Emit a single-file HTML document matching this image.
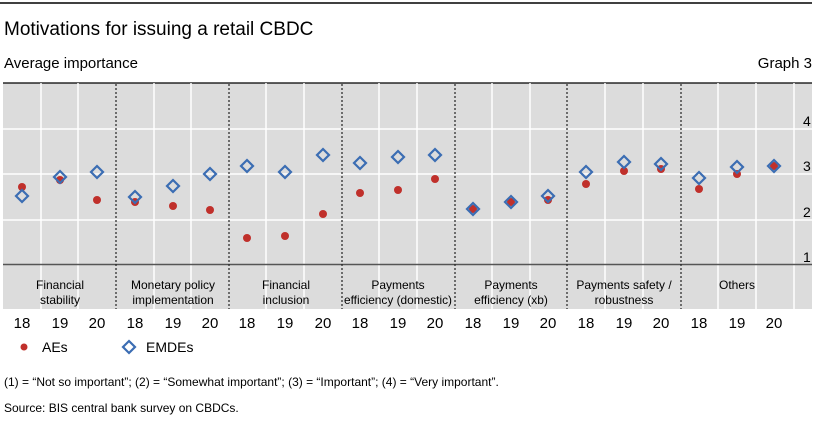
<!DOCTYPE html>
<html><head><meta charset="utf-8"><style>
body{margin:0;background:#fff;}
svg{display:block;font-family:"Liberation Sans",sans-serif;}
</style></head><body>
<svg width="827" height="427" xmlns="http://www.w3.org/2000/svg">
<line x1="0" y1="3" x2="812" y2="3" stroke="#000" stroke-width="1.5"/>
<text x="4" y="35" font-size="19" fill="#000">Motivations for issuing a retail CBDC</text>
<text x="4" y="68" font-size="15" fill="#000">Average importance</text>
<text x="812" y="68" font-size="15" fill="#000" text-anchor="end">Graph 3</text>
<rect x="3" y="83" width="809" height="226" fill="#dcdcdc"/>
<line x1="3" y1="83" x2="812" y2="83" stroke="#000" stroke-width="1.2"/>
<g stroke="#fff" stroke-width="1.5">
<line x1="3" y1="129" x2="812" y2="129"/><line x1="3" y1="174" x2="812" y2="174"/><line x1="3" y1="220" x2="812" y2="220"/>
<line x1="41" y1="83" x2="41" y2="309"/><line x1="78" y1="83" x2="78" y2="309"/>
<line x1="154" y1="83" x2="154" y2="309"/><line x1="191" y1="83" x2="191" y2="309"/>
<line x1="266" y1="83" x2="266" y2="309"/><line x1="304" y1="83" x2="304" y2="309"/>
<line x1="379" y1="83" x2="379" y2="309"/><line x1="417" y1="83" x2="417" y2="309"/>
<line x1="492" y1="83" x2="492" y2="309"/><line x1="530" y1="83" x2="530" y2="309"/>
<line x1="605" y1="83" x2="605" y2="309"/><line x1="643" y1="83" x2="643" y2="309"/>
<line x1="718" y1="83" x2="718" y2="309"/><line x1="756" y1="83" x2="756" y2="309"/>
<line x1="794" y1="83" x2="794" y2="309"/>
</g>
<line x1="3" y1="264.5" x2="812" y2="264.5" stroke="#555" stroke-width="1.5"/>
<g stroke="#222" stroke-width="1.2" stroke-dasharray="2,2">
<line x1="116" y1="84" x2="116" y2="309"/><line x1="229" y1="84" x2="229" y2="309"/>
<line x1="342" y1="84" x2="342" y2="309"/><line x1="455" y1="84" x2="455" y2="309"/>
<line x1="567" y1="84" x2="567" y2="309"/><line x1="681" y1="84" x2="681" y2="309"/>
</g>
<g font-size="14" fill="#000">
<text x="803" y="126">4</text><text x="803" y="171">3</text><text x="803" y="217">2</text><text x="803" y="262">1</text>
</g>
<g font-size="12" fill="#000" text-anchor="middle">
<text x="60" y="289">Financial</text><text x="60" y="304">stability</text>
<text x="173" y="289">Monetary policy</text><text x="173" y="304">implementation</text>
<text x="286" y="289">Financial</text><text x="286" y="304">inclusion</text>
<text x="398" y="289">Payments</text><text x="398" y="304" textLength="108" lengthAdjust="spacingAndGlyphs">efficiency (domestic)</text>
<text x="511" y="289">Payments</text><text x="511" y="304">efficiency (xb)</text>
<text x="624" y="289">Payments safety /</text><text x="624" y="304">robustness</text>
<text x="737" y="289">Others</text>
</g>
<g font-size="15" fill="#000" text-anchor="middle">
<text x="22" y="328">18</text><text x="60" y="328">19</text><text x="97" y="328">20</text>
<text x="135" y="328">18</text><text x="173" y="328">19</text><text x="210" y="328">20</text>
<text x="247" y="328">18</text><text x="285" y="328">19</text><text x="323" y="328">20</text>
<text x="360" y="328">18</text><text x="398" y="328">19</text><text x="435" y="328">20</text>
<text x="473" y="328">18</text><text x="511" y="328">19</text><text x="548" y="328">20</text>
<text x="586" y="328">18</text><text x="624" y="328">19</text><text x="661" y="328">20</text>
<text x="699" y="328">18</text><text x="737" y="328">19</text><text x="774" y="328">20</text>
</g>
<g fill="#c0302b">
<circle cx="22" cy="187" r="4"/><circle cx="60" cy="180" r="4"/><circle cx="97" cy="200" r="4"/>
<circle cx="135" cy="202" r="4"/><circle cx="173" cy="206" r="4"/><circle cx="210" cy="210" r="4"/>
<circle cx="247" cy="238" r="4"/><circle cx="285" cy="236" r="4"/><circle cx="323" cy="214" r="4"/>
<circle cx="360" cy="193" r="4"/><circle cx="398" cy="190" r="4"/><circle cx="435" cy="179" r="4"/>
<circle cx="473" cy="209" r="4"/><circle cx="511" cy="202" r="4"/><circle cx="548" cy="200" r="4"/>
<circle cx="586" cy="184" r="4"/><circle cx="624" cy="171" r="4"/><circle cx="661" cy="169" r="4"/>
<circle cx="699" cy="189" r="4"/><circle cx="737" cy="174" r="4"/><circle cx="774" cy="166" r="4"/>
</g>
<g fill="none" stroke="#3b6db3" stroke-width="2.2">
<path d="M22 190l6 6-6 6-6-6z"/><path d="M60 171l6 6-6 6-6-6z"/><path d="M97 166l6 6-6 6-6-6z"/>
<path d="M135 191l6 6-6 6-6-6z"/><path d="M173 180l6 6-6 6-6-6z"/><path d="M210 168l6 6-6 6-6-6z"/>
<path d="M247 160l6 6-6 6-6-6z"/><path d="M285 166l6 6-6 6-6-6z"/><path d="M323 149l6 6-6 6-6-6z"/>
<path d="M360 157l6 6-6 6-6-6z"/><path d="M398 151l6 6-6 6-6-6z"/><path d="M435 149l6 6-6 6-6-6z"/>
<path d="M473 203l6 6-6 6-6-6z"/><path d="M511 196l6 6-6 6-6-6z"/><path d="M548 190l6 6-6 6-6-6z"/>
<path d="M586 166l6 6-6 6-6-6z"/><path d="M624 156l6 6-6 6-6-6z"/><path d="M661 158l6 6-6 6-6-6z"/>
<path d="M699 172l6 6-6 6-6-6z"/><path d="M737 161l6 6-6 6-6-6z"/><path d="M774 160l6 6-6 6-6-6z"/>
</g>
<circle cx="24" cy="347" r="3.5" fill="#c0302b"/>
<text x="42" y="352" font-size="14">AEs</text>
<path d="M129 341l6 6-6 6-6-6z" fill="none" stroke="#3b6db3" stroke-width="2.2"/>
<text x="146" y="352" font-size="14">EMDEs</text>
<text x="4" y="386" font-size="12">(1) = “Not so important”; (2) = “Somewhat important”; (3) = “Important”; (4) = “Very important”.</text>
<text x="4" y="412" font-size="12">Source: BIS central bank survey on CBDCs.</text>
</svg>
</body></html>
